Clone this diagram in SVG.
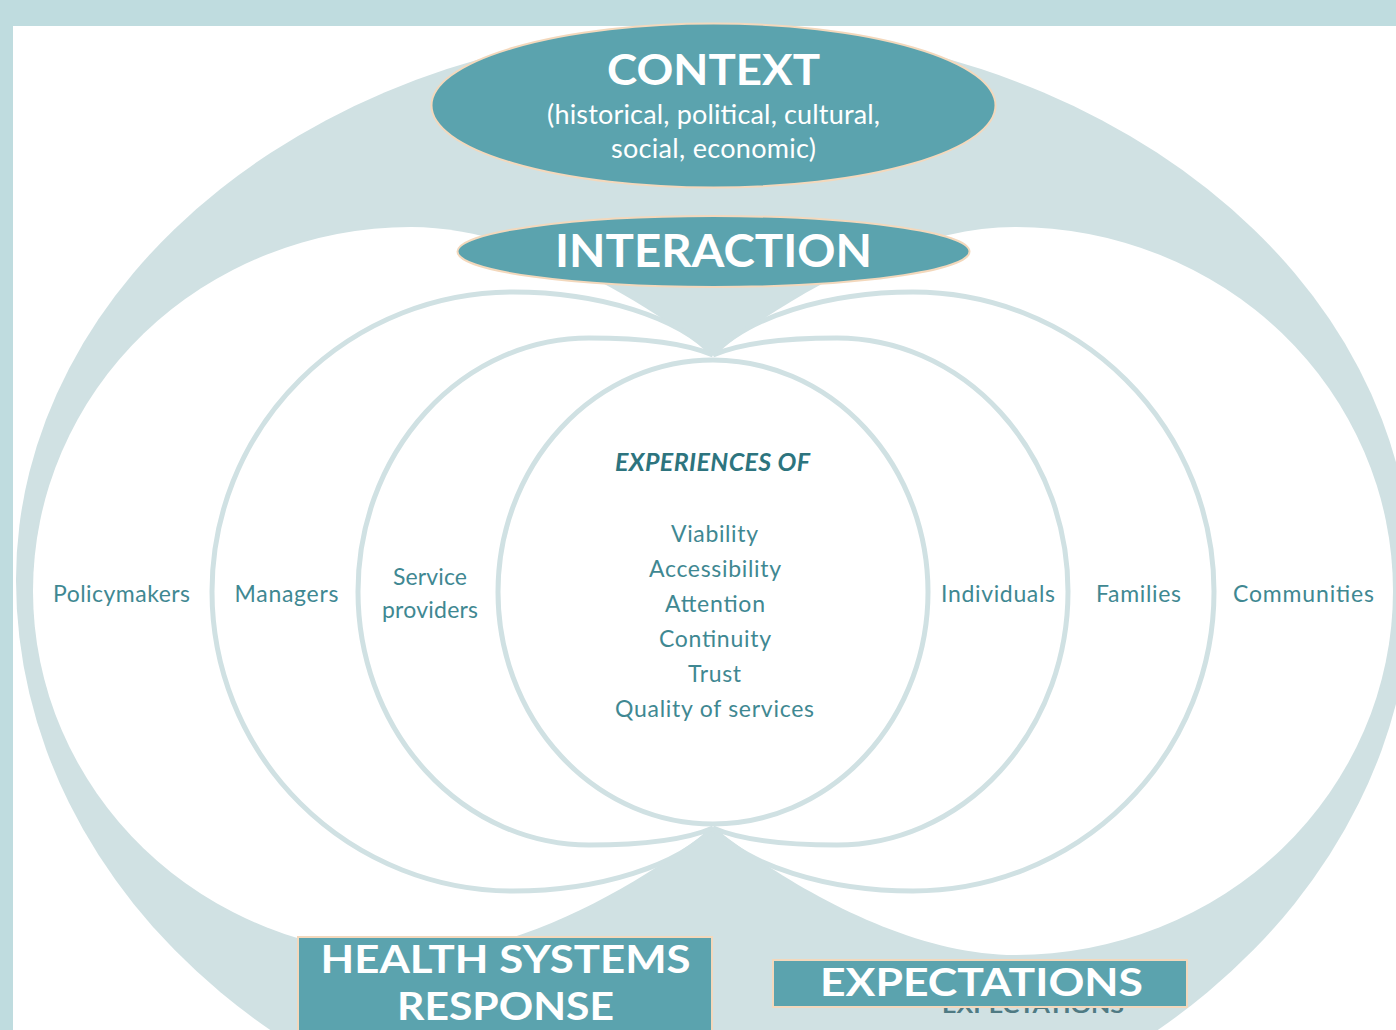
<svg xmlns="http://www.w3.org/2000/svg" width="1396" height="1030" viewBox="0 0 1396 1030">
  <defs>
    <style>
      .band { fill: #bfdcdf; }
      .panel { fill: #ffffff; }
      .halo { fill: #d0e1e3; }
      .petal { fill: #ffffff; }
      .loop { fill: none; stroke: #d0e1e3; stroke-width: 5; }
      .oval { fill: #5ba3ae; stroke: #f3d8bc; stroke-width: 2; }
      .box { fill: #5ba3ae; stroke: #f3d8bc; stroke-width: 2; }
      .head { font-family: Lato, "Open Sans", "DejaVu Sans", sans-serif; font-weight: 700; fill: #ffffff; text-anchor: middle; }
      .sub { font-family: Lato, "Open Sans", "DejaVu Sans", sans-serif; font-size: 27px; fill: #ffffff; text-anchor: middle; }
      .lbl { font-family: Lato, "Open Sans", "DejaVu Sans", sans-serif; font-size: 23px; fill: #3f8892; text-anchor: middle; }
      .title { font-family: Lato, "Open Sans", "DejaVu Sans", sans-serif; font-size: 25px; font-weight: 700; font-style: italic; fill: #2d747e; text-anchor: middle; }
      .ghost { font-family: Lato, "Open Sans", "DejaVu Sans", sans-serif; font-size: 20px; font-weight: 700; fill: #4f7a83; text-anchor: middle; }
    </style>
  </defs>

  <!-- frame -->
  <rect class="band" x="0" y="0" width="1396" height="1030"/>
  <rect class="panel" x="13" y="26" width="1383" height="1004"/>

  <!-- backdrop: outer halo with two white petals -->
  <g id="backdrop">
    <path class="halo" d="M16,580 A698,553 0 0 1 1412,580 A698,583 0 0 1 16,580 Z"/>
    <path class="petal" d="M713,355 C640,298 520,227 411,227 A378,364 0 0 0 33,591 A378,364 0 0 0 411,955 C520,955 640,884 713,827 Z"/>
    <path class="petal" d="M713,355 C786,298 906,227 1015,227 A378,364 0 0 1 1393,591 A378,364 0 0 1 1015,955 C906,955 786,884 713,827 Z"/>
  </g>

  <!-- actor loops -->
  <g id="policymakers">
    <text class="lbl" x="121.5" y="602" textLength="137">Policymakers</text>
  </g>
  <g id="managers">
    <path class="loop" d="M713,355 C680,318 600,292 513,292 A301,299.5 0 0 0 212,591.5 A301,299.5 0 0 0 513,891 C600,891 680,865 713,828"/>
    <text class="lbl" x="286.5" y="602" textLength="104">Managers</text>
  </g>
  <g id="service-providers">
    <path class="loop" d="M713,355 C685,343 640,338 589,338 A231,253.5 0 0 0 358,591.5 A231,253.5 0 0 0 589,845 C640,845 685,840 713,828"/>
    <text class="lbl" x="430" y="585" textLength="74">Service</text>
    <text class="lbl" x="430" y="618" textLength="96">providers</text>
  </g>
  <g id="individuals">
    <path class="loop" d="M713,355 C741,343 786,338 837,338 A231,253.5 0 0 1 1068,591.5 A231,253.5 0 0 1 837,845 C786,845 741,840 713,828"/>
    <text class="lbl" x="998" y="602" textLength="114">Individuals</text>
  </g>
  <g id="families">
    <path class="loop" d="M713,355 C746,318 826,292 913,292 A301,299.5 0 0 1 1214,591.5 A301,299.5 0 0 1 913,891 C826,891 746,865 713,828"/>
    <text class="lbl" x="1138.5" y="602" textLength="85">Families</text>
  </g>
  <g id="communities">
    <text class="lbl" x="1303.5" y="602" textLength="141">Communities</text>
  </g>

  <!-- core: experiences -->
  <g id="experiences">
    <ellipse class="loop" cx="713" cy="592" rx="215" ry="232"/>
    <text class="title" x="712.5" y="471" textLength="195">EXPERIENCES OF</text>
    <text class="lbl" x="714.5" y="542" textLength="87">Viability</text>
    <text class="lbl" x="715" y="577" textLength="132">Accessibility</text>
    <text class="lbl" x="715" y="612" textLength="100">Attention</text>
    <text class="lbl" x="715" y="647" textLength="112">Continuity</text>
    <text class="lbl" x="714.5" y="682" textLength="53">Trust</text>
    <text class="lbl" x="714.5" y="717" textLength="199">Quality of services</text>
  </g>

  <g id="context">
    <ellipse class="oval" cx="713.5" cy="105.5" rx="282" ry="82"/>
    <text class="head" x="713.5" y="85" font-size="42" textLength="213" lengthAdjust="spacingAndGlyphs">CONTEXT</text>
    <text class="sub" x="713.5" y="124" textLength="333">(historical, political, cultural,</text>
    <text class="sub" x="713.5" y="158" textLength="205">social, economic)</text>
  </g>

  <g id="interaction">
    <ellipse class="oval" cx="713.5" cy="251.5" rx="256" ry="35.5"/>
    <text class="head" x="713.5" y="267" font-size="46" textLength="317" lengthAdjust="spacingAndGlyphs">INTERACTION</text>
  </g>

  <g id="health-systems-response">
    <rect class="box" x="298" y="937" width="414" height="100"/>
    <text class="head" x="505.5" y="973" font-size="39" textLength="370" lengthAdjust="spacingAndGlyphs">HEALTH SYSTEMS</text>
    <text class="head" x="505.5" y="1020" font-size="39" textLength="217" lengthAdjust="spacingAndGlyphs">RESPONSE</text>
  </g>

  <g id="expectations">
    <!-- lower caption, mostly tucked under the box -->
    <text class="ghost" x="1033" y="1013" textLength="182" lengthAdjust="spacingAndGlyphs">EXPECTATIONS</text>
    <rect class="box" x="773" y="960" width="414" height="47"/>
    <text class="head" x="981.5" y="996" font-size="39" textLength="323" lengthAdjust="spacingAndGlyphs">EXPECTATIONS</text>
  </g>
</svg>
